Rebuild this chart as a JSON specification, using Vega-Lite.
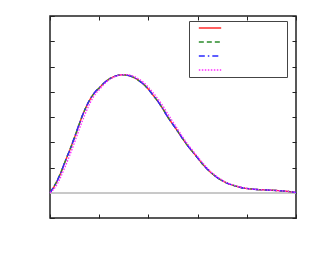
{
  "$schema": "https://vega.github.io/schema/vega-lite/v6.json",
  "width": 246,
  "height": 202,
  "autosize": {"type": "none"},
  "padding": {"left": 50, "top": 16, "right": 17, "bottom": 45},
  "background": "white",
  "config": {
    "view": {"stroke": "#222", "strokeWidth": 1.5},
    "axis": {"labels": false, "title": null, "grid": false, "domain": false, "tickSize": -4, "tickColor": "#222", "tickWidth": 1}
  },
  "data": {"values": [
    {"x": 0.0, "a": 0, "b": 0, "c": 0, "d": 0},
    {"x": 0.1, "a": 0.3, "b": 0.31, "c": 0.3, "d": 0.2},
    {"x": 0.2, "a": 0.7, "b": 0.71, "c": 0.7, "d": 0.55},
    {"x": 0.3, "a": 1.2, "b": 1.2, "c": 1.21, "d": 1.0},
    {"x": 0.4, "a": 1.68, "b": 1.69, "c": 1.68, "d": 1.48},
    {"x": 0.5, "a": 2.2, "b": 2.2, "c": 2.21, "d": 2.0},
    {"x": 0.6, "a": 2.75, "b": 2.75, "c": 2.76, "d": 2.55},
    {"x": 0.7, "a": 3.25, "b": 3.25, "c": 3.25, "d": 3.05},
    {"x": 0.8, "a": 3.65, "b": 3.65, "c": 3.66, "d": 3.5},
    {"x": 0.9, "a": 3.95, "b": 3.95, "c": 3.95, "d": 3.85},
    {"x": 1.0, "a": 4.15, "b": 4.15, "c": 4.16, "d": 4.08},
    {"x": 1.1, "a": 4.35, "b": 4.35, "c": 4.35, "d": 4.3},
    {"x": 1.2, "a": 4.5, "b": 4.5, "c": 4.5, "d": 4.47},
    {"x": 1.3, "a": 4.6, "b": 4.6, "c": 4.6, "d": 4.58},
    {"x": 1.4, "a": 4.66, "b": 4.66, "c": 4.66, "d": 4.65},
    {"x": 1.5, "a": 4.67, "b": 4.67, "c": 4.67, "d": 4.68},
    {"x": 1.6, "a": 4.64, "b": 4.64, "c": 4.64, "d": 4.67},
    {"x": 1.7, "a": 4.57, "b": 4.57, "c": 4.57, "d": 4.61},
    {"x": 1.8, "a": 4.45, "b": 4.45, "c": 4.45, "d": 4.51},
    {"x": 1.9, "a": 4.3, "b": 4.3, "c": 4.3, "d": 4.37},
    {"x": 2.0, "a": 4.1, "b": 4.1, "c": 4.1, "d": 4.18},
    {"x": 2.1, "a": 3.85, "b": 3.85, "c": 3.85, "d": 3.95},
    {"x": 2.2, "a": 3.6, "b": 3.6, "c": 3.6, "d": 3.7},
    {"x": 2.3, "a": 3.3, "b": 3.3, "c": 3.3, "d": 3.42},
    {"x": 2.4, "a": 2.98, "b": 2.98, "c": 2.98, "d": 3.1},
    {"x": 2.5, "a": 2.7, "b": 2.7, "c": 2.7, "d": 2.8},
    {"x": 2.6, "a": 2.42, "b": 2.42, "c": 2.42, "d": 2.5},
    {"x": 2.7, "a": 2.13, "b": 2.13, "c": 2.13, "d": 2.2},
    {"x": 2.8, "a": 1.86, "b": 1.86, "c": 1.86, "d": 1.92},
    {"x": 2.9, "a": 1.62, "b": 1.62, "c": 1.62, "d": 1.67},
    {"x": 3.0, "a": 1.38, "b": 1.38, "c": 1.38, "d": 1.43},
    {"x": 3.1, "a": 1.14, "b": 1.14, "c": 1.14, "d": 1.19},
    {"x": 3.2, "a": 0.93, "b": 0.93, "c": 0.93, "d": 0.97},
    {"x": 3.3, "a": 0.75, "b": 0.75, "c": 0.75, "d": 0.78},
    {"x": 3.4, "a": 0.6, "b": 0.6, "c": 0.6, "d": 0.63},
    {"x": 3.5, "a": 0.48, "b": 0.48, "c": 0.48, "d": 0.5},
    {"x": 3.6, "a": 0.38, "b": 0.38, "c": 0.38, "d": 0.39},
    {"x": 3.7, "a": 0.31, "b": 0.31, "c": 0.31, "d": 0.32},
    {"x": 3.8, "a": 0.25, "b": 0.25, "c": 0.25, "d": 0.26},
    {"x": 3.9, "a": 0.2, "b": 0.2, "c": 0.2, "d": 0.21},
    {"x": 4.0, "a": 0.17, "b": 0.17, "c": 0.17, "d": 0.17},
    {"x": 4.2, "a": 0.13, "b": 0.13, "c": 0.13, "d": 0.13},
    {"x": 4.4, "a": 0.11, "b": 0.11, "c": 0.11, "d": 0.11},
    {"x": 4.6, "a": 0.09, "b": 0.09, "c": 0.09, "d": 0.09},
    {"x": 4.8, "a": 0.06, "b": 0.06, "c": 0.06, "d": 0.06},
    {"x": 5.0, "a": 0.01, "b": 0.01, "c": 0.01, "d": 0.01}
  ]},
  "layer": [
    {
      "mark": {"type": "rule", "color": "#c8c8c8", "strokeWidth": 1},
      "encoding": {"y": {"datum": 0, "type": "quantitative"}}
    },
    {
      "transform": [{"fold": ["a", "b", "c", "d"], "as": ["s", "v"]}],
      "mark": {"type": "line", "strokeWidth": 1.4, "interpolate": "monotone"},
      "encoding": {
        "x": {"field": "x", "type": "quantitative", "scale": {"domain": [0, 5], "nice": false, "zero": false},
              "axis": {"orient": "bottom", "values": [0, 1, 2, 3, 4, 5]}},
        "y": {"field": "v", "type": "quantitative", "scale": {"domain": [-1, 7], "nice": false},
              "axis": {"orient": "left", "values": [-1, 0, 1, 2, 3, 4, 5, 6, 7]}},
        "color": {"field": "s", "type": "nominal",
                  "scale": {"domain": ["a", "b", "c", "d"], "range": ["#ff2a2a", "#2a8a2a", "#2a2aff", "#ff2aff"]},
                  "legend": {"title": null, "orient": "none", "legendX": 139, "legendY": 5,
                             "symbolType": "stroke", "symbolSize": 500, "symbolStrokeWidth": 1.5,
                             "symbolOffset": 8, "padding": 1, "rowPadding": 2, "clipHeight": 12,
                             "labelExpr": "'mmmmmm'", "labelOpacity": 0, "labelFontSize": 12,
                             "strokeColor": "#444", "fillColor": "white"}},
        "strokeDash": {"field": "s", "type": "nominal",
                       "scale": {"domain": ["a", "b", "c", "d"], "range": [[1, 0], [5, 3], [6, 3, 1.5, 3], [1.5, 1.5]]},
                       "legend": {"title": null, "orient": "none", "legendX": 139, "legendY": 5,
                             "symbolType": "stroke", "symbolSize": 500, "symbolStrokeWidth": 1.5,
                             "symbolOffset": 8, "padding": 1, "rowPadding": 2, "clipHeight": 12,
                             "labelExpr": "'mmmmmm'", "labelOpacity": 0, "labelFontSize": 12,
                             "strokeColor": "#444", "fillColor": "white"}}
      }
    },
    {
      "mark": {"type": "point", "opacity": 0},
      "encoding": {
        "x": {"field": "x", "type": "quantitative", "axis": {"orient": "top", "values": [0, 1, 2, 3, 4, 5]}},
        "y": {"field": "a", "type": "quantitative", "axis": {"orient": "right", "values": [-1, 0, 1, 2, 3, 4, 5, 6, 7]}}
      }
    }
  ]
}
